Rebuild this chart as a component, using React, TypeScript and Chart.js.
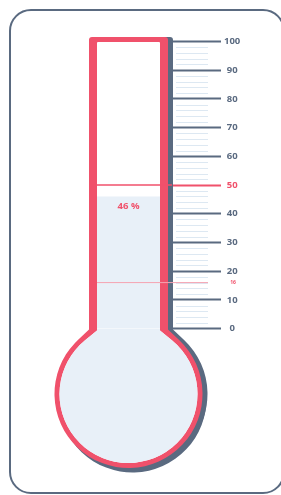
import React, { useEffect, useRef } from "react";
import { Chart, registerables } from "chart.js";

Chart.register(...registerables);

// ---- data ----
const categories = ["Progress"];
const currentValues = [46];
const targetValues = [50];
const markerValues = [16];
const scaleMin = 0;
const scaleMax = 100;
const majorStep = 10;
const minorStep = 2;
const valueLabel = "46 %";
const markerLabel = "16";

// ---- styles ----
const RED = "#f0516b";
const SLATE = "#5a6a80";
const FILL = "#e8f0f8";
const MINOR = "#dde8f2";
const PINK = "#f5a3b1";
const FONT = "'Open Sans', Lato, sans-serif";

function thermoPath(
  ctx: CanvasRenderingContext2D,
  cx: number,
  half: number,
  top: number,
  wallY: number,
  cy: number,
  R: number,
  rr: number,
  dx: number,
  dy: number
) {
  const py = wallY - cy;
  const d = Math.hypot(half, py);
  let thR: number;
  let thL: number;
  if (d > R) {
    const alpha = Math.acos(R / d);
    thR = Math.atan2(py, half) + alpha;
    thL = Math.atan2(py, -half) - alpha;
  } else {
    const a = Math.acos(half / R);
    thR = -a;
    thL = -(Math.PI - a);
  }
  const l = cx - half + dx;
  const r = cx + half + dx;
  const t = top + dy;
  const ccx = cx + dx;
  const ccy = cy + dy;
  ctx.beginPath();
  ctx.moveTo(l + rr, t);
  ctx.lineTo(r - rr, t);
  ctx.quadraticCurveTo(r, t, r, t + rr);
  if (d > R) {
    ctx.lineTo(r, wallY + dy);
  }
  ctx.lineTo(ccx + R * Math.cos(thR), ccy + R * Math.sin(thR));
  ctx.arc(ccx, ccy, R, thR, thL, false);
  if (d > R) {
    ctx.lineTo(l, wallY + dy);
  }
  ctx.lineTo(l, t + rr);
  ctx.quadraticCurveTo(l, t, l + rr, t);
  ctx.closePath();
}

const thermoPlugin = {
  id: "thermo",
  beforeDatasetsDraw(chart: any) {
    const { ctx, chartArea } = chart;
    const y = chart.scales.y;
    const cx = (chartArea.left + chartArea.right) / 2;
    const yTop = y.getPixelForValue(scaleMax);
    const y0 = y.getPixelForValue(scaleMin);
    const oh = 39.5;
    const ih = 31.5;
    const cy = y0 + 65.5;
    const R = 74;
    const r = 69;
    ctx.save();
    // shadow
    ctx.fillStyle = SLATE;
    thermoPath(ctx, cx, oh, yTop - 4.5, y0 + 1, cy, R, 3, 5, 0);
    ctx.fill();
    thermoPath(ctx, cx, oh, yTop - 4.5, y0 + 1, cy, R, 3, 4, 4.5);
    ctx.fill();
    // red outline
    ctx.fillStyle = RED;
    thermoPath(ctx, cx, oh, yTop - 4.5, y0 + 1, cy, R, 3, 0, 0);
    ctx.fill();
    // inner white
    ctx.fillStyle = "#ffffff";
    thermoPath(ctx, cx, ih, yTop + 0.5, y0 + 2, cy, r, 1, 0, 0);
    ctx.fill();
    // liquid in bulb
    ctx.save();
    ctx.clip();
    ctx.fillStyle = FILL;
    ctx.fillRect(cx - R, y0, R * 2, R * 3);
    ctx.restore();
    ctx.restore();
  },
  afterDatasetsDraw(chart: any) {
    const { ctx, chartArea } = chart;
    const y = chart.scales.y;
    const cx = (chartArea.left + chartArea.right) / 2;
    const ih = 31.5;
    ctx.save();
    // minor ticks
    ctx.strokeStyle = MINOR;
    ctx.lineWidth = 1;
    for (let v = scaleMin; v <= scaleMax; v += minorStep) {
      if (v % majorStep === 0) continue;
      const py = Math.round(y.getPixelForValue(v)) + 0.5;
      ctx.beginPath();
      ctx.moveTo(chartArea.right + 4, py);
      ctx.lineTo(chartArea.right + 36, py);
      ctx.stroke();
    }
    // marker line
    const my = y.getPixelForValue(markerValues[0]);
    ctx.strokeStyle = PINK;
    ctx.lineWidth = 1;
    ctx.beginPath();
    ctx.moveTo(cx - ih, my);
    ctx.lineTo(chartArea.right + 36, my);
    ctx.stroke();
    // target line
    const ty = y.getPixelForValue(targetValues[0]);
    ctx.strokeStyle = RED;
    ctx.lineWidth = 1.5;
    ctx.beginPath();
    ctx.moveTo(cx - ih, ty);
    ctx.lineTo(chartArea.right, ty);
    ctx.stroke();
    // value label
    ctx.fillStyle = RED;
    ctx.font = `bold 9.5px ${FONT}`;
    ctx.textAlign = "center";
    ctx.textBaseline = "middle";
    ctx.fillText(valueLabel, cx, y.getPixelForValue(currentValues[0]) + 10);
    // marker label
    ctx.font = `bold 5px ${FONT}`;
    ctx.fillText(markerLabel, chartArea.right + 61, my);
    ctx.restore();
  },
};

export default function App() {
  const ref = useRef<HTMLCanvasElement | null>(null);
  useEffect(() => {
    if (!ref.current) return;
    const chart = new Chart(ref.current, {
      type: "bar",
      data: {
        labels: categories,
        datasets: [
          {
            data: currentValues,
            backgroundColor: FILL,
            borderWidth: 0,
            barPercentage: 63 / 87,
            categoryPercentage: 1,
          },
        ],
      },
      options: {
        animation: false,
        responsive: false,
        devicePixelRatio: 1,
        layout: { padding: { top: 41.5, bottom: 166.5, left: 85, right: 39 } },
        plugins: { legend: { display: false }, tooltip: { enabled: false } },
        scales: {
          x: { display: false },
          y: {
            position: "right",
            min: scaleMin,
            max: scaleMax,
            afterFit: (scale: any) => {
              scale.width = 70;
            },
            border: { display: false },
            grid: {
              drawOnChartArea: false,
              drawTicks: true,
              tickLength: 49,
              tickWidth: 2,
              tickColor: (c: any) => (c.tick && c.tick.value === targetValues[0] ? RED : SLATE),
            },
            ticks: {
              stepSize: majorStep,
              padding: 3,
              crossAlign: "center",
              color: (c: any) => (c.tick && c.tick.value === targetValues[0] ? RED : SLATE),
              font: { family: FONT, size: 9.5, weight: "bold" },
            },
          },
        },
      },
      plugins: [thermoPlugin],
    } as any);
    return () => chart.destroy();
  }, []);

  return (
    <div style={{ position: "fixed", left: 0, top: 0, width: 281, height: 495, overflow: "hidden", background: "#fff" }}>
      <div
        style={{
          position: "absolute",
          left: 9,
          top: 9,
          width: 276,
          height: 485,
          boxSizing: "border-box",
          border: `2.5px solid ${SLATE}`,
          borderRadius: 22,
        }}
      />
      <canvas ref={ref} width={281} height={495} style={{ position: "absolute", left: 0, top: 0, display: "block" }} />
    </div>
  );
}
